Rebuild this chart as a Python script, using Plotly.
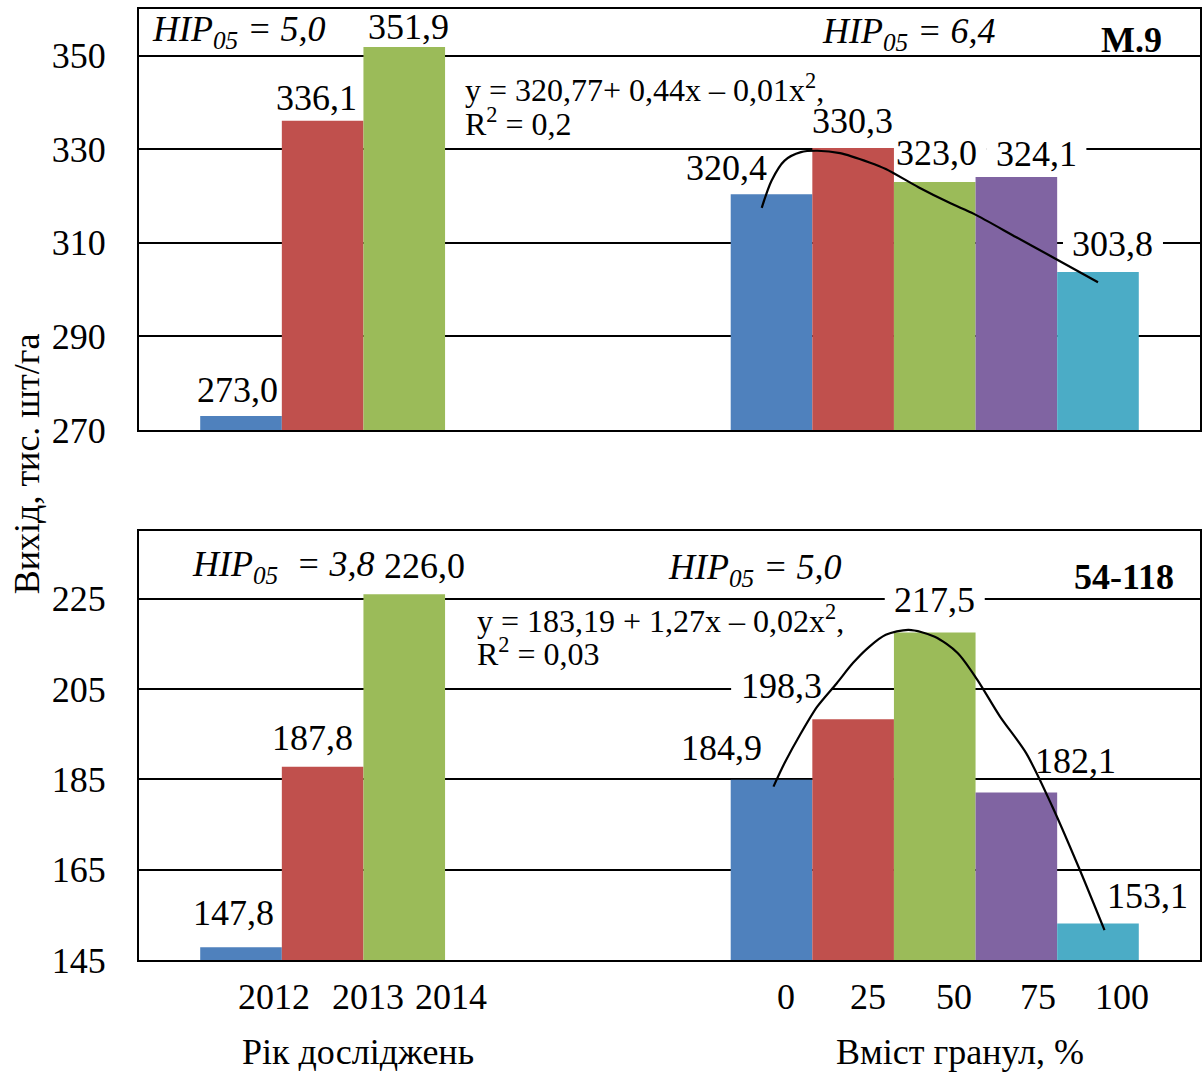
import plotly.graph_objects as go

# ---- data ----
years = ["2012", "2013", "2014"]
granule_pct = [0, 25, 50, 75, 100]
granule_labels = ["0", "25", "50", "75", "100"]

# М.9 rootstock
m9_by_year = [273.0, 336.1, 351.9]
m9_by_granule = [320.4, 330.3, 323.0, 324.1, 303.8]
m9_trend_pct = [-3, 0, 4, 9, 14, 21, 30, 35, 45, 55, 62, 75, 86, 100]
m9_trend_val = [317.5, 323.3, 327.6, 329.4, 329.7, 329.2, 327.2, 325.8,
                321.9, 318.4, 316.2, 311.2, 307.0, 301.6]

# 54-118 rootstock
r54_by_year = [147.8, 187.8, 226.0]
r54_by_granule = [184.9, 198.3, 217.5, 182.1, 153.1]
r54_trend_pct = [0.6, 4, 9, 14, 20, 25, 30, 35, 42, 50, 57, 63, 70, 78, 86, 94, 102]
r54_trend_val = [183.4, 188.6, 195.2, 201.1, 206.3, 210.8, 214.4, 217.0, 218.1,
                 216.6, 213.0, 207.1, 198.9, 190.8, 179.0, 165.7, 151.6]

# ---- styling ----
FONT = "Liberation Serif"
palette = ["#4F81BD", "#C0504D", "#9BBB59", "#8064A2", "#4BACC6"]
YEAR_START = 1.25      # centre of first year bar on the shared x scale
GRAN_START = 7.75      # centre of first granule bar
X_RANGE = [0, 13]

# label offsets in pixels (dx, dy) for each panel's value labels
m9_year_dx, m9_year_dy = [-4, -6, 4], [26, 23, 20]
m9_gran_dx, m9_gran_dy = [-45, -1, 2, 20, 15], [26, 27, 29, 23, 28]
r54_year_dx, r54_year_dy = [-8, -10, 20], [34, 29, 28]
r54_gran_dx, r54_gran_dy = [-50, -72, 0, 59, 50], [32, 33, 33, 31, 27]

year_x = [YEAR_START + i for i in range(len(years))]
gran_x = [GRAN_START + i for i in range(len(granule_pct))]


def pct_to_x(p):
    return GRAN_START + p / 25.0


fig = go.Figure()

panels = [
    ("x", "y", m9_by_year, m9_by_granule, m9_trend_pct, m9_trend_val),
    ("x2", "y2", r54_by_year, r54_by_granule, r54_trend_pct, r54_trend_val),
]
for xa, ya, by_year, by_gran, t_pct, t_val in panels:
    fig.add_trace(go.Bar(x=year_x, y=by_year, width=1, xaxis=xa, yaxis=ya,
                         marker=dict(color=palette[:3], line=dict(width=0)),
                         showlegend=False, hoverinfo="y"))
    fig.add_trace(go.Bar(x=gran_x, y=by_gran, width=1, xaxis=xa, yaxis=ya,
                         marker=dict(color=palette, line=dict(width=0)),
                         showlegend=False, hoverinfo="y"))
    fig.add_trace(go.Scatter(x=[pct_to_x(p) for p in t_pct], y=t_val,
                             xaxis=xa, yaxis=ya, mode="lines",
                             line=dict(color="black", width=2.2, shape="spline",
                                       smoothing=0.8),
                             showlegend=False, hoverinfo="skip"))

annotations = []
shapes = []


def fmt(v):
    return f"{v:.1f}".replace(".", ",")


def value_labels(xs, vals, dxs, dys, xref, yref):
    for x, v, dx, dy in zip(xs, vals, dxs, dys):
        annotations.append(dict(
            x=x, y=v, xref=xref, yref=yref, text=fmt(v), showarrow=False,
            xanchor="center", yanchor="middle", xshift=dx, yshift=dy,
            font=dict(family=FONT, size=36, color="black")))
        # white patch behind the label: breaks gridlines but stays under the marks
        shapes.append(dict(
            type="rect", xref=xref, yref=yref, layer="between",
            xsizemode="pixel", ysizemode="pixel", xanchor=x, yanchor=v,
            x0=dx - 50, x1=dx + 50, y0=dy - 16, y1=dy + 17,
            fillcolor="white", line=dict(width=0)))


value_labels(year_x, m9_by_year, m9_year_dx, m9_year_dy, "x", "y")
value_labels(gran_x, m9_by_granule, m9_gran_dx, m9_gran_dy, "x", "y")
value_labels(year_x, r54_by_year, r54_year_dx, r54_year_dy, "x2", "y2")
value_labels(gran_x, r54_by_granule, r54_gran_dx, r54_gran_dy, "x2", "y2")

# plot area geometry (paper coordinates)
W, H = 1203, 1074
ML, MR, MT, MB = 139, 1, 9, 114
PW, PH = W - ML - MR, H - MT - MB


def px(xp):
    return (xp - ML) / PW


def py(yp):
    return (H - MB - yp) / PH


def text(x, y, s, size=36, xanchor="left", **kw):
    annotations.append(dict(x=px(x), y=py(y), xref="paper", yref="paper",
                            text=s, showarrow=False, xanchor=xanchor,
                            yanchor="middle",
                            font=dict(family=FONT, size=size, color="black"),
                            **kw))


# LSD notes and rootstock names
text(150, 32, "<i>HIP<sub>05</sub> = 5,0</i>")
text(821, 34, "<i>HIP<sub>05</sub> = 6,4</i>")
text(1166, 40, "<b>M.9</b>", xanchor="right")
text(190, 566, "<i>HIP<sub>05</sub>  = 3,8</i>")
text(667, 569, "<i>HIP<sub>05</sub> = 5,0</i>")
text(1178, 577, "<b>54-118</b>", xanchor="right")

# trend equations
text(464, 88, "y = 320,77+ 0,44x – 0,01x<sup>2</sup>,", size=32)
text(464, 122, "R<sup>2</sup> = 0,2", size=32)
text(476, 619, "y = 183,19 + 1,27x – 0,02x<sup>2</sup>,", size=32)
text(476, 652, "R<sup>2</sup> = 0,03", size=32)

# category labels under the lower panel
year_shift = [33, 45, 47]
gran_shift = [14, 15, 19, 22, 24]
for x, lab, s in zip(year_x, years, year_shift):
    annotations.append(dict(x=x, y=py(997), xref="x2", yref="paper", text=lab,
                            showarrow=False, xanchor="center", yanchor="middle",
                            xshift=s, font=dict(family=FONT, size=36, color="black")))
for x, lab, s in zip(gran_x, granule_labels, gran_shift):
    annotations.append(dict(x=x, y=py(997), xref="x2", yref="paper", text=lab,
                            showarrow=False, xanchor="center", yanchor="middle",
                            xshift=s, font=dict(family=FONT, size=36, color="black")))

# axis titles
text(358, 1052, "Рік досліджень", xanchor="center")
text(962, 1052, "Вміст гранул, %", xanchor="center")
text(27, 464, "Вихід, тис. шт/га", size=36, xanchor="center", textangle=-90)

frame = dict(showline=True, linecolor="black", linewidth=2, mirror=True,
             zeroline=False)
xcommon = dict(range=X_RANGE, showgrid=False, showticklabels=False, ticks="",
               fixedrange=True, **frame)
ycommon = dict(showgrid=True, gridcolor="black", gridwidth=2, ticks="",
               ticklabelstandoff=24,
               tickfont=dict(family=FONT, size=36, color="black"), **frame)

fig.update_layout(
    width=W, height=H,
    margin=dict(l=ML, r=MR, t=MT, b=MB),
    paper_bgcolor="white", plot_bgcolor="white",
    xaxis=dict(domain=[0, 1], anchor="y", **xcommon),
    xaxis2=dict(domain=[0, 1], anchor="y2", **xcommon),
    yaxis=dict(domain=[py(430), 1], anchor="x", range=[270, 360],
               tick0=270, dtick=20, **ycommon),
    yaxis2=dict(domain=[0, py(531)], anchor="x2", range=[145, 240],
                tick0=145, dtick=20, **ycommon),
    annotations=annotations,
    shapes=shapes,
    showlegend=False,
)

fig.write_html("out.html")
